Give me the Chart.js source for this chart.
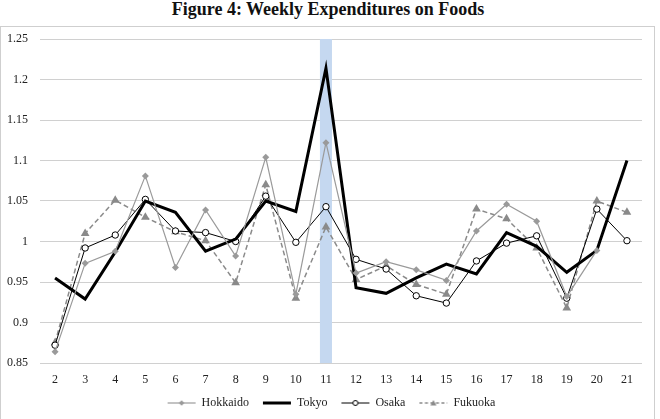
<!DOCTYPE html>
<html>
<head>
<meta charset="utf-8">
<script src="https://cdn.jsdelivr.net/npm/chart.js@4.4.1/dist/chart.umd.min.js"></script>
<style>
  html, body { margin: 0; padding: 0; background: #fff; }
  body { width: 660px; height: 419px; position: relative; overflow: hidden; }
  #title { position: absolute; left: 0; top: -1px; width: 656px; text-align: center;
           font: bold 18px "Liberation Serif", "Times New Roman", serif; color: #111; }
  #frame { position: absolute; left: 0; top: 26px; width: 653px; height: 400px; border: 1px solid #cfcfcf; }
  #c { position: absolute; left: 0; top: 0; }
</style>
</head>
<body>
<div id="title">Figure 4: Weekly Expenditures on Foods</div>
<div id="frame"><canvas id="c" width="653" height="392"></canvas></div>
<script>
const weeks = ['2','3','4','5','6','7','8','9','10','11','12','13','14','15','16','17','18','19','20','21'];
const hokkaido = [0.864,0.973,0.988,1.081,0.968,1.039,0.982,1.104,0.935,1.122,0.961,0.975,0.965,0.952,1.013,1.046,1.025,0.932,0.989,null];
const tokyo    = [0.955,0.929,0.987,1.050,1.036,0.988,1.003,1.050,1.037,1.214,0.943,0.936,0.955,0.972,0.960,1.011,0.994,0.962,0.989,1.100];
const osaka    = [0.872,0.992,1.008,1.052,1.013,1.011,1.000,1.056,0.999,1.043,0.978,0.966,0.933,0.924,0.976,0.998,1.007,0.930,1.040,1.001];
const fukuoka  = [0.875,1.010,1.051,1.030,1.012,1.001,0.949,1.070,0.930,1.018,0.953,0.970,0.947,0.935,1.040,1.028,0.992,0.918,1.050,1.036];
const seriesNames = ['Hokkaido','Tokyo','Osaka','Fukuoka'];
const yTicks = [0.85,0.9,0.95,1,1.05,1.1,1.15,1.2,1.25];
const highlightWeek = '11';

const FONT = '"Liberation Serif", "Times New Roman", serif';
const GRAY_H = '#9a9a9a';
const GRAY_F = '#8a8a8a';

function legendImg(draw) {
  const cv = document.createElement('canvas');
  cv.width = 34; cv.height = 10;
  const ctx = cv.getContext('2d');
  draw(ctx);
  return cv;
}
// line drawn from x=5 to x=33, marker centred at 19
const legendImgs = [
  legendImg(ctx => {
    ctx.strokeStyle = GRAY_H; ctx.lineWidth = 1.2;
    ctx.beginPath(); ctx.moveTo(5, 5); ctx.lineTo(33, 5); ctx.stroke();
    ctx.fillStyle = GRAY_H; ctx.beginPath();
    ctx.moveTo(19, 2.3); ctx.lineTo(21.7, 5); ctx.lineTo(19, 7.7); ctx.lineTo(16.3, 5); ctx.closePath(); ctx.fill();
  }),
  legendImg(ctx => {
    ctx.strokeStyle = '#000'; ctx.lineWidth = 3;
    ctx.beginPath(); ctx.moveTo(5, 5); ctx.lineTo(33, 5); ctx.stroke();
  }),
  legendImg(ctx => {
    ctx.strokeStyle = '#000'; ctx.lineWidth = 1;
    ctx.beginPath(); ctx.moveTo(5, 5); ctx.lineTo(33, 5); ctx.stroke();
    ctx.fillStyle = '#fff'; ctx.beginPath(); ctx.arc(19, 5, 2.5, 0, Math.PI * 2); ctx.fill(); ctx.stroke();
  }),
  legendImg(ctx => {
    ctx.strokeStyle = GRAY_F; ctx.lineWidth = 1.3; ctx.setLineDash([3, 2.5]);
    ctx.beginPath(); ctx.moveTo(5, 5); ctx.lineTo(33, 5); ctx.stroke();
    ctx.setLineDash([]);
    ctx.fillStyle = GRAY_F; ctx.beginPath();
    ctx.moveTo(19, 2); ctx.lineTo(22, 7.5); ctx.lineTo(16, 7.5); ctx.closePath(); ctx.fill();
  })
];

const bandPlugin = {
  id: 'band',
  beforeDatasetsDraw(chart) {
    const x = chart.scales.x;
    const area = chart.chartArea;
    const idx = weeks.indexOf(highlightWeek);
    const step = x.getPixelForValue(1) - x.getPixelForValue(0);
    const cx = x.getPixelForValue(idx);
    const w = step * 0.4;
    const ctx = chart.ctx;
    ctx.save();
    ctx.fillStyle = '#c5d8f0';
    ctx.fillRect(cx - w / 2, area.top, w, area.bottom - area.top);
    ctx.restore();
  }
};

// centre the legend on the whole frame rather than on the padded box
const legendShift = {
  id: 'legendShift',
  afterLayout(chart) {
    const lg = chart.legend;
    if (lg) { lg.left += 8; lg.right += 8; }
  }
};

new Chart(document.getElementById('c'), {
  type: 'line',
  data: {
    labels: weeks,
    datasets: [
      { label: seriesNames[0], data: hokkaido, borderColor: GRAY_H, backgroundColor: GRAY_H,
        borderWidth: 1.2, pointStyle: 'rectRot', pointRadius: 3.5, pointBorderWidth: 0, spanGaps: false },
      { label: seriesNames[1], data: tokyo, borderColor: '#000', backgroundColor: '#000',
        borderWidth: 3, pointRadius: 0 },
      { label: seriesNames[2], data: osaka, borderColor: '#000', backgroundColor: '#fff',
        borderWidth: 1, pointStyle: 'circle', pointRadius: 3.2, pointBorderWidth: 1 },
      { label: seriesNames[3], data: fukuoka, borderColor: GRAY_F, backgroundColor: GRAY_F,
        borderWidth: 1.5, borderDash: [5, 3], pointStyle: 'triangle', pointRadius: 5, pointBorderWidth: 0 }
    ]
  },
  options: {
    responsive: false,
    animation: false,
    events: [],
    layout: { autoPadding: false, padding: { left: 0, right: 12, top: 12, bottom: 0 } },
    elements: { line: { tension: 0 } },
    scales: {
      x: {
        offset: true,
        afterFit(scale) { scale.height = 24; },
        grid: { display: false, drawTicks: false },
        border: { display: false },
        ticks: { color: '#222', font: { family: FONT, size: 12 }, padding: 10, maxRotation: 0, autoSkip: false }
      },
      y: {
        min: 0.85, max: 1.25,
        afterBuildTicks(scale) { scale.ticks = yTicks.map(v => ({ value: v })); },
        afterFit(scale) { scale.width = 39; scale.paddingTop = 0; scale.paddingBottom = 0; },
        grid: { color: '#d0d0d0', lineWidth: 1, drawTicks: false },
        border: { display: false },
        ticks: { color: '#222', font: { family: FONT, size: 12 }, padding: 12,
                 callback: v => String(Number(v.toFixed(2))) }
      }
    },
    plugins: {
      title: { display: false },
      tooltip: { enabled: false },
      legend: {
        position: 'bottom',
        labels: {
          usePointStyle: true,
          pointStyleWidth: 32,
          boxHeight: 10,
          padding: 10,
          color: '#222',
          font: { family: FONT, size: 12 },
          generateLabels(chart) {
            const items = Chart.defaults.plugins.legend.labels.generateLabels(chart);
            items.forEach(it => { it.pointStyle = legendImgs[it.datasetIndex]; });
            return items;
          }
        }
      }
    }
  },
  plugins: [bandPlugin, legendShift]
});
</script>
</body>
</html>
